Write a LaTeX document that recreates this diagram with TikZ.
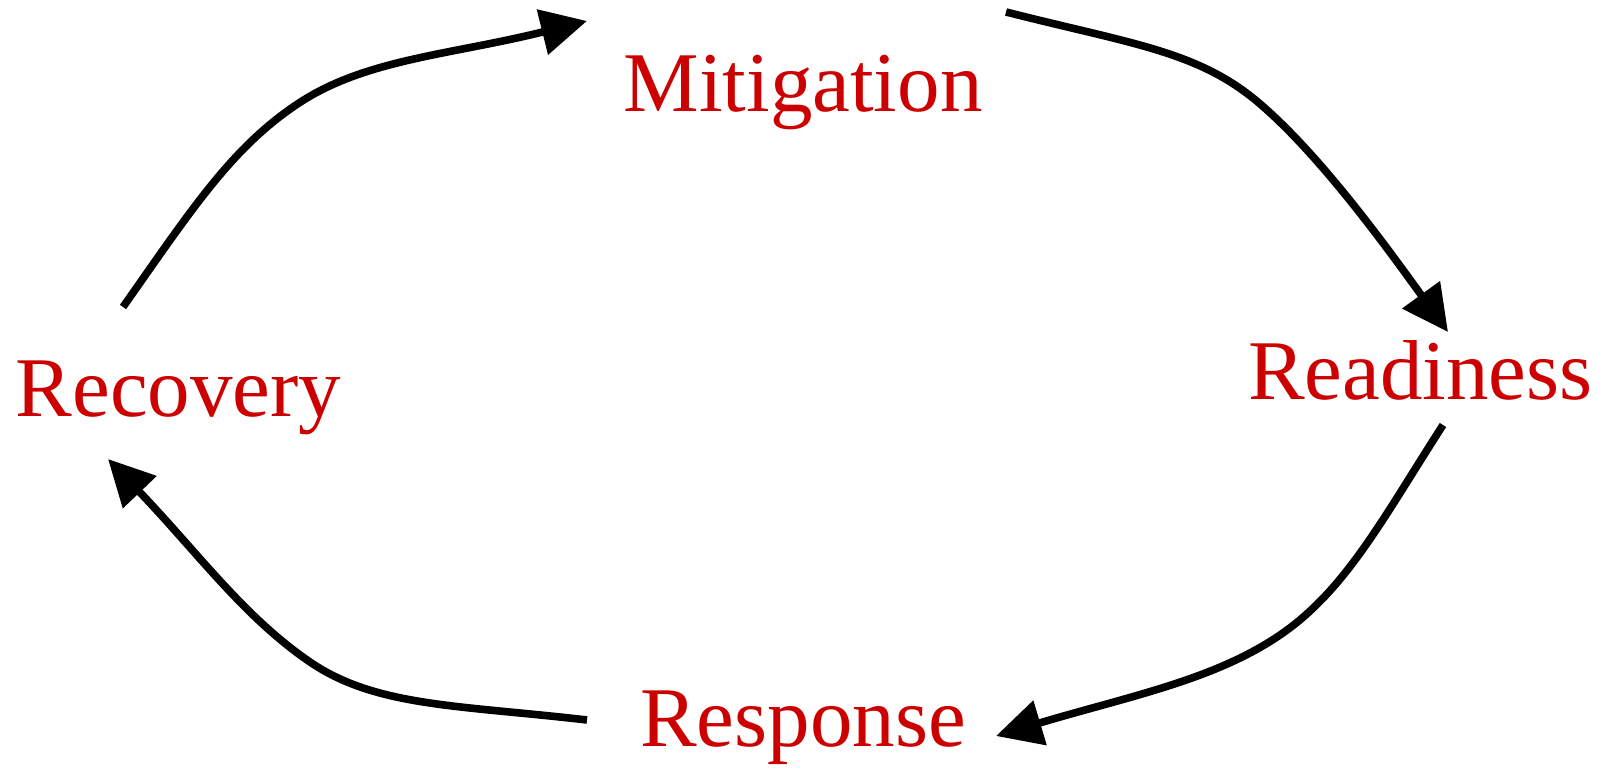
\documentclass[tikz,border=0pt]{standalone}
\usepackage{fontspec}
\setmainfont{Liberation Serif}
\usetikzlibrary{arrows.meta}
\definecolor{phasered}{RGB}{204,0,0}
\tikzset{
  phase/.style={text=phasered, font=\fontsize{42.5pt}{50pt}\selectfont, inner sep=0pt, anchor=base},
  cycarrow/.style={line width=3.8pt, -{Triangle[length=23pt,width=22.5pt]}}
}
\begin{document}
\begin{tikzpicture}[x=0.5pt,y=-0.5pt]
\useasboundingbox (0,0) rectangle (1618,769);
\node[phase] (mit) at (803,112) {Mitigation};
\node[phase] (rea) at (1420.5,400) {Readiness};
\node[phase] (res) at (803,747) {Response};
\node[phase] (rec) at (178.5,417) {Recovery};
% arrow ends
\coordinate (a1s) at (123,307);
\coordinate (a1m) at (299,103);
\coordinate (a1e) at (587,21);
\coordinate (a2s) at (1006,12);
\coordinate (a2m) at (1259,103);
\coordinate (a2e) at (1448,332);
\coordinate (a3s) at (1443,425);
\coordinate (a3m) at (1280,635);
\coordinate (a3e) at (996,736);
\coordinate (a4s) at (587,720);
\coordinate (a4m) at (310,662);
\coordinate (a4e) at (108,459);
\draw[cycarrow] (a1s) .. controls (192,209) and (232,147) .. (a1m)
  .. controls (366,59) and (450,55) .. (a1e);
\draw[cycarrow] (a2s) .. controls (1132,44) and (1198,51) .. (a2m)
  .. controls (1320,155) and (1385,245) .. (a2e);
\draw[cycarrow] (a3s) .. controls (1383,518) and (1346,590) .. (a3m)
  .. controls (1214,680) and (1130,696) .. (a3e);
\draw[cycarrow] (a4s) .. controls (458,705) and (376,707) .. (a4m)
  .. controls (244,617) and (198,553) .. (a4e);
\end{tikzpicture}
\end{document}
